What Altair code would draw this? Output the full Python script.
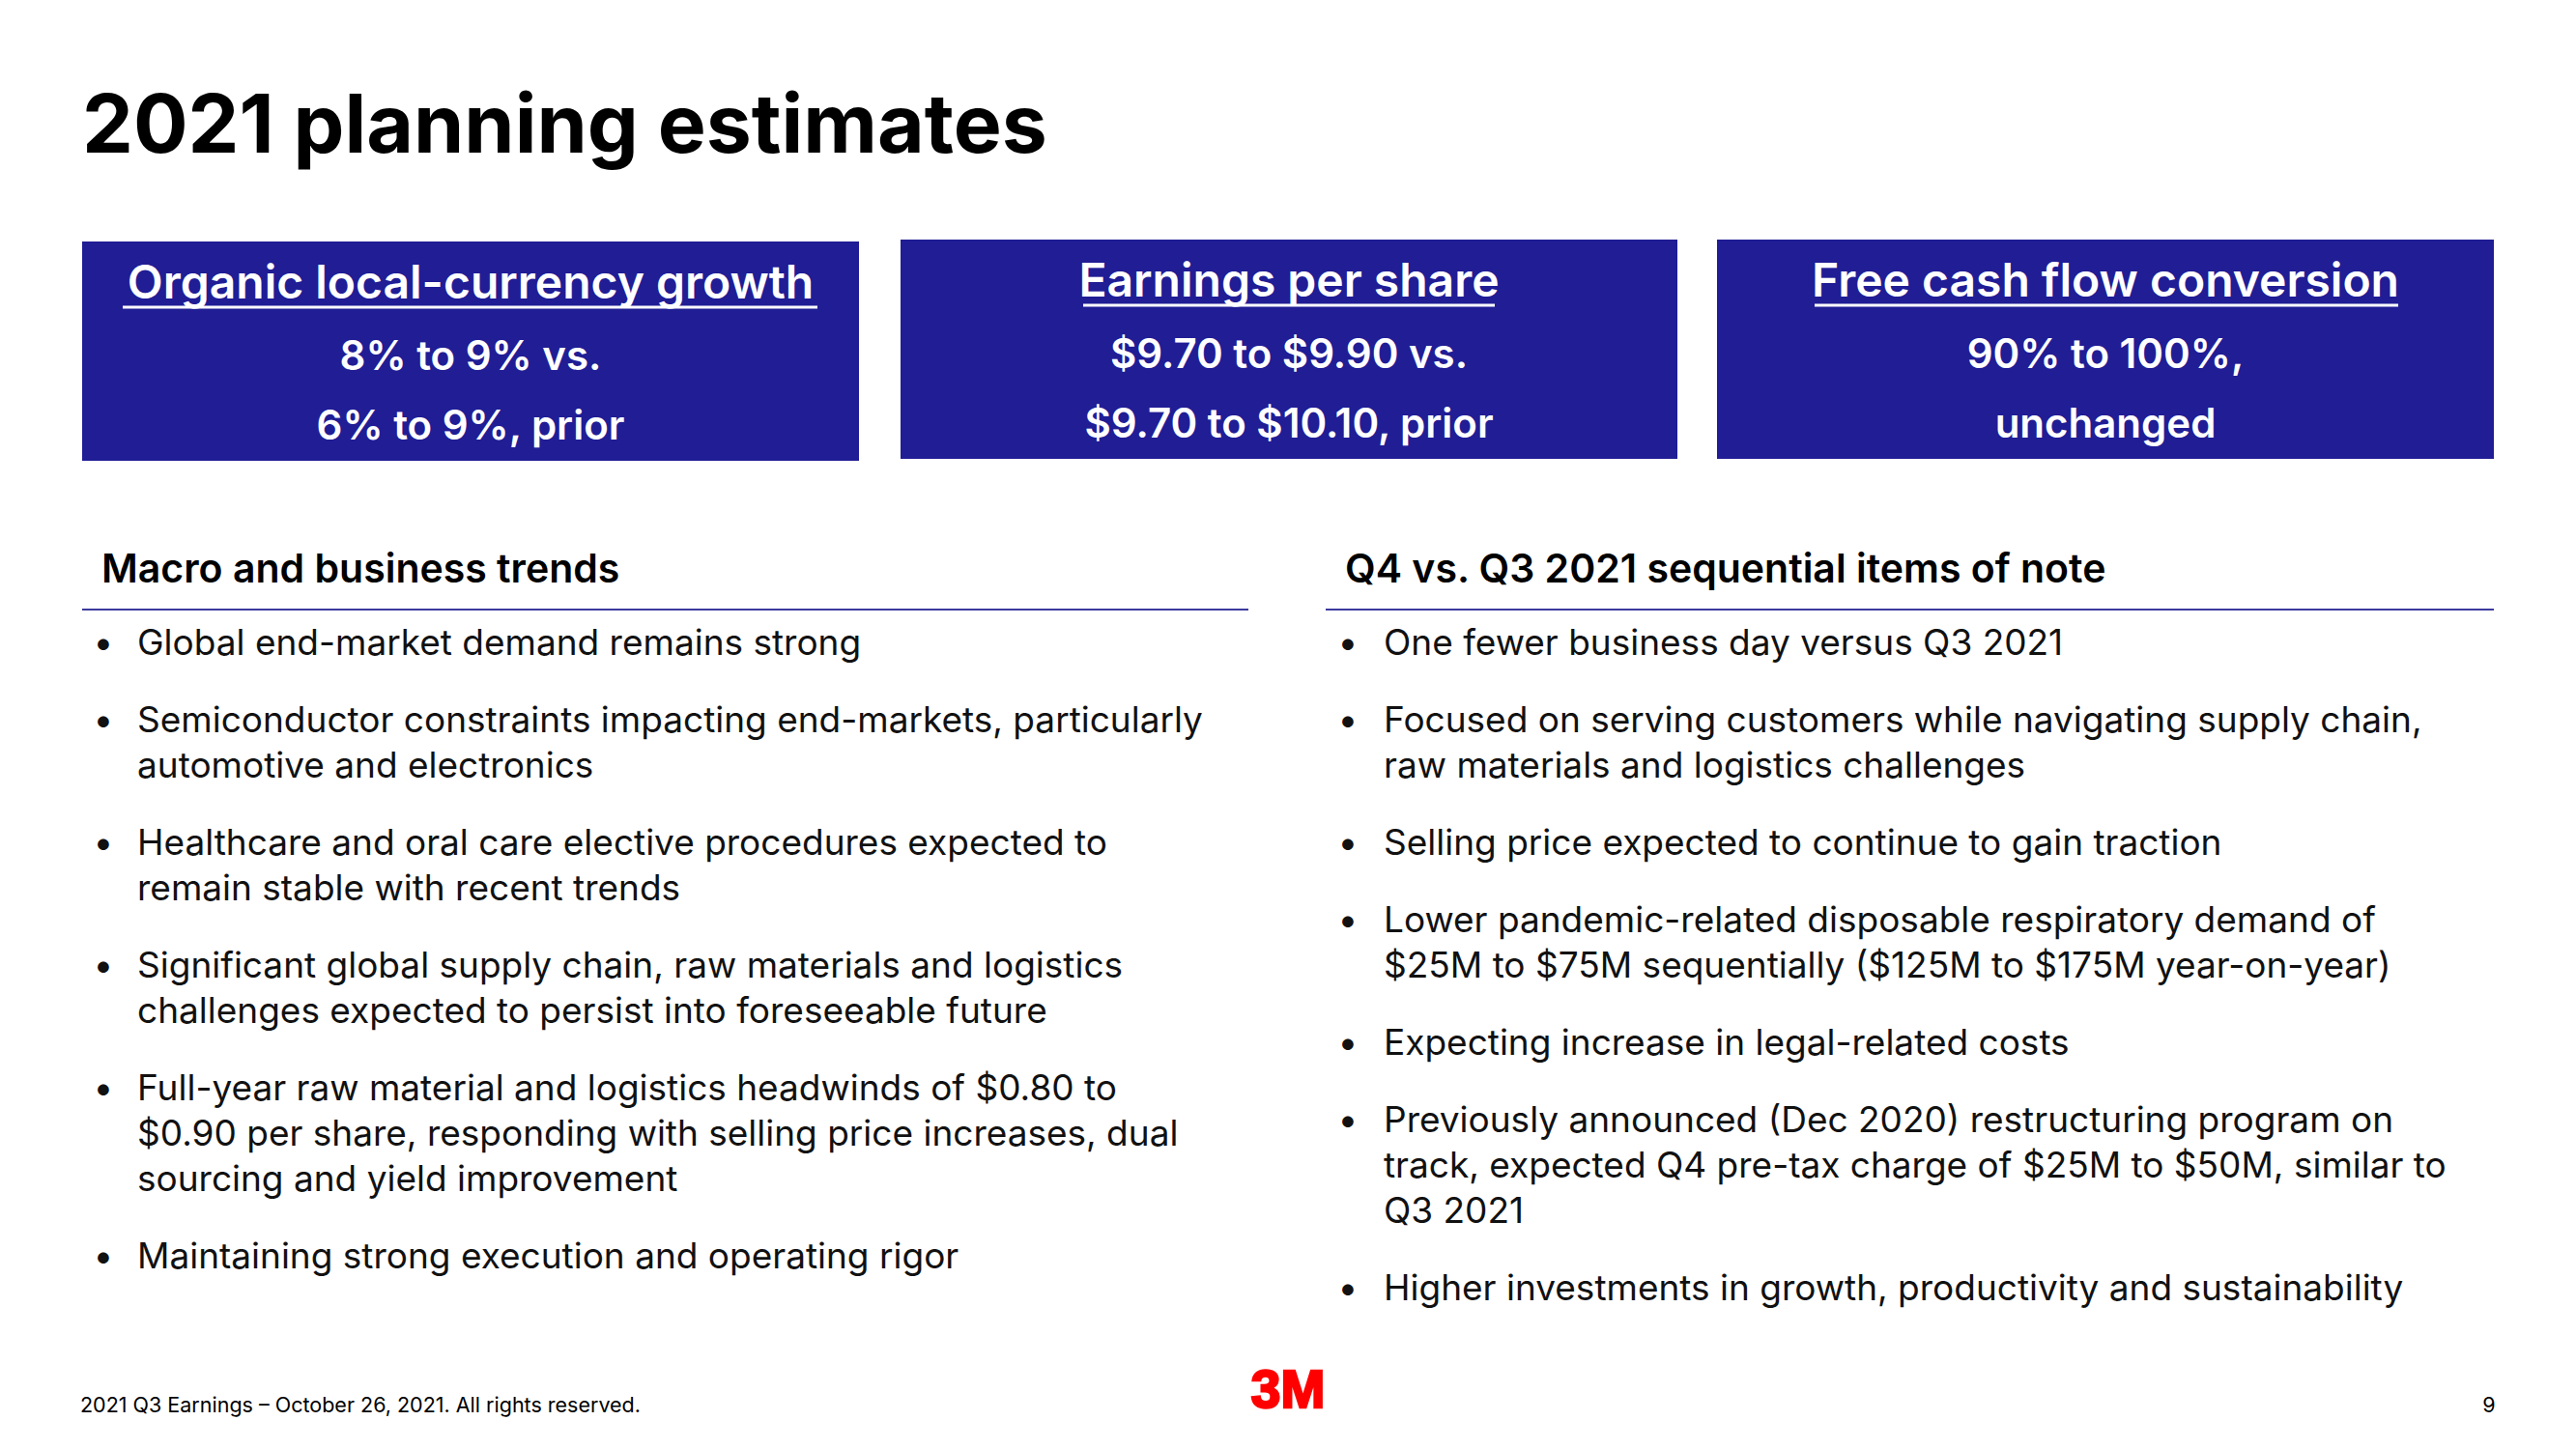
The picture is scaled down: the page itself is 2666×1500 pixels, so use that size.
import altair as alt
import pandas as pd

# ---------------- content ----------------
TITLE = "2021 planning estimates"
BOX_HEADERS = ["Organic local-currency growth", "Earnings per share", "Free cash flow conversion"]
BOX_LINE1 = ["8% to 9% vs.", "$9.70 to $9.90 vs.", "90% to 100%,"]
BOX_LINE2 = ["6% to 9%, prior", "$9.70 to $10.10, prior", "unchanged"]
SECTION_HEADINGS = ["Macro and business trends", "Q4 vs. Q3 2021 sequential items of note"]
LEFT_BULLETS = [
    ["Global end-market demand remains strong"],
    ["Semiconductor constraints impacting end-markets, particularly", "automotive and electronics"],
    ["Healthcare and oral care elective procedures expected to", "remain stable with recent trends"],
    ["Significant global supply chain, raw materials and logistics", "challenges expected to persist into foreseeable future"],
    ["Full-year raw material and logistics headwinds of $0.80 to",
     "$0.90 per share, responding with selling price increases, dual",
     "sourcing and yield improvement"],
    ["Maintaining strong execution and operating rigor"],
]
RIGHT_BULLETS = [
    ["One fewer business day versus Q3 2021"],
    ["Focused on serving customers while navigating supply chain,", "raw materials and logistics challenges"],
    ["Selling price expected to continue to gain traction"],
    ["Lower pandemic-related disposable respiratory demand of", "$25M to $75M sequentially ($125M to $175M year-on-year)"],
    ["Expecting increase in legal-related costs"],
    ["Previously announced (Dec 2020) restructuring program on",
     "track, expected Q4 pre-tax charge of $25M to $50M, similar to",
     "Q3 2021"],
    ["Higher investments in growth, productivity and sustainability"],
]
FOOTER = "2021 Q3 Earnings \u2013 October 26, 2021. All rights reserved."
PAGE_NO = "9"
LOGO = "3M"

# ---------------- layout (page pixel coordinates) ----------------
W, H = 2650, 1484
FONT = "Inter"
BLUE = "#201d95"
BOX_X = [(85, 889), (932, 1736), (1777, 2581)]
BOX_Y = [(250, 477), (248, 475), (248, 475)]
BOX_BASE = [309, 383, 455]
UNDERLINE_X = [(127, 846), (1121, 1547), (1878, 2482)]
UNDERLINE_Y = 318
SEC_X = [105, 1392]
SEC_BASE = 603
RULE_X = [(85, 1292), (1372, 2581)]
RULE_Y = 631
BULLET_X = [(107, 142), (1395, 1432)]
FIRST_BASE = 678
LINE_GAP = 47
PARA_GAP = 80

xs = alt.Scale(domain=[8, 8 + W], range=[0, W], nice=False, zero=False)
ys = alt.Scale(domain=[8, 8 + H], range=[0, H], nice=False, zero=False)


def X(f="x"):
    return alt.X(f"{f}:Q", scale=xs, axis=None)


def Y(f="y"):
    return alt.Y(f"{f}:Q", scale=ys, axis=None)


layers = []

# title
title_df = pd.DataFrame({"x": [85], "y": [158], "t": [TITLE]})
layers.append(alt.Chart(title_df).mark_text(align="left", baseline="alphabetic", font=FONT,
                                            fontSize=84, fontWeight="bold", color="#000000")
              .encode(x=X(), y=Y(), text="t:N"))

# boxes
box_df = pd.DataFrame({"x": [b[0] for b in BOX_X], "x2": [b[1] for b in BOX_X],
                       "y": [b[0] for b in BOX_Y], "y2": [b[1] for b in BOX_Y]})
layers.append(alt.Chart(box_df).mark_rect(color=BLUE)
              .encode(x=X(), x2="x2:Q", y=Y(), y2="y2:Q"))

cx = [(a + b) / 2 for a, b in BOX_X]
off = [b[0] - 250 for b in BOX_Y]
hdr_df = pd.DataFrame({"x": cx, "y": [BOX_BASE[0] + o for o in off], "t": BOX_HEADERS})
layers.append(alt.Chart(hdr_df).mark_text(align="center", baseline="alphabetic", font=FONT,
                                          fontSize=48, fontWeight=600, color="white")
              .encode(x=X(), y=Y(), text="t:N"))
ul_df = pd.DataFrame({"x": [u[0] for u in UNDERLINE_X], "x2": [u[1] for u in UNDERLINE_X],
                      "y": [UNDERLINE_Y + o for o in off]})
layers.append(alt.Chart(ul_df).mark_rule(color="white", strokeWidth=3)
              .encode(x=X(), x2="x2:Q", y=Y()))
l1_df = pd.DataFrame({"x": cx + cx,
                      "y": [BOX_BASE[1] + o for o in off] + [BOX_BASE[2] + o for o in off],
                      "t": BOX_LINE1 + BOX_LINE2})
layers.append(alt.Chart(l1_df).mark_text(align="center", baseline="alphabetic", font=FONT,
                                         fontSize=42, fontWeight=600, color="white")
              .encode(x=X(), y=Y(), text="t:N"))

# section headings + rules
sec_df = pd.DataFrame({"x": SEC_X, "y": [SEC_BASE] * 2, "t": SECTION_HEADINGS})
layers.append(alt.Chart(sec_df).mark_text(align="left", baseline="alphabetic", font=FONT,
                                          fontSize=41, fontWeight=600, color="#000000")
              .encode(x=X(), y=Y(), text="t:N"))
rule_df = pd.DataFrame({"x": [r[0] for r in RULE_X], "x2": [r[1] for r in RULE_X], "y": [RULE_Y] * 2})
layers.append(alt.Chart(rule_df).mark_rule(color="#3d3a9e", strokeWidth=2)
              .encode(x=X(), x2="x2:Q", y=Y()))

# bullets
brows, trows = [], []
for col, bullets in enumerate([LEFT_BULLETS, RIGHT_BULLETS]):
    bx, tx = BULLET_X[col]
    yb = FIRST_BASE
    for para in bullets:
        brows.append({"x": bx, "y": yb, "t": "\u2022"})
        for i, line in enumerate(para):
            trows.append({"x": tx, "y": yb + i * LINE_GAP, "t": line})
        yb += (len(para) - 1) * LINE_GAP + PARA_GAP
layers.append(alt.Chart(pd.DataFrame(brows)).mark_text(align="center", baseline="alphabetic", font=FONT,
                                                       fontSize=37, color="#111111")
              .encode(x=X(), y=Y(), text="t:N"))
layers.append(alt.Chart(pd.DataFrame(trows)).mark_text(align="left", baseline="alphabetic", font=FONT,
                                                       fontSize=37, color="#111111")
              .encode(x=X(), y=Y(), text="t:N"))

# footer
foot_df = pd.DataFrame({"x": [83], "y": [1462], "t": [FOOTER]})
layers.append(alt.Chart(foot_df).mark_text(align="left", baseline="alphabetic", font=FONT,
                                           fontSize=21.5, color="#000000")
              .encode(x=X(), y=Y(), text="t:N"))
page_df = pd.DataFrame({"x": [2576], "y": [1462], "t": [PAGE_NO]})
layers.append(alt.Chart(page_df).mark_text(align="center", baseline="alphabetic", font=FONT,
                                           fontSize=21.5, color="#000000")
              .encode(x=X(), y=Y(), text="t:N"))
logo_df = pd.DataFrame({"x": [1333], "y": [1457], "t": [LOGO]})
layers.append(alt.Chart(logo_df).mark_text(align="center", baseline="alphabetic", font="Liberation Sans",
                                           fontSize=55, fontWeight=900, color="#ff0000",
                                           stroke="#ff0000", strokeWidth=2.5)
              .encode(x=X(), y=Y(), text="t:N"))

chart = alt.layer(*layers).properties(width=W, height=H, padding=0).configure_view(stroke=None)
chart.save("out.html", embed_options={"renderer": "svg", "actions": False})
